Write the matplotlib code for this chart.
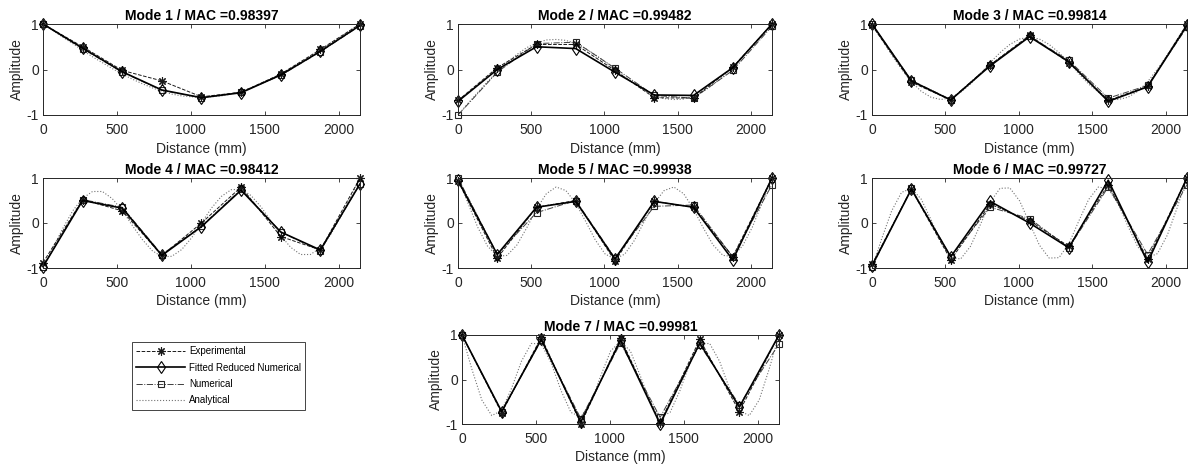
import matplotlib
matplotlib.use("Agg")
import matplotlib.pyplot as plt

plt.rcParams['font.family'] = ['Liberation Sans', 'DejaVu Sans']

# ---------------- data ----------------
sensor_x = [0, 268, 536, 804, 1072, 1340, 1608, 1876, 2144]

ana_x = [0, 67, 134, 201, 268, 335, 402, 469, 536, 603, 670, 737, 804, 871, 938,
         1005, 1072, 1139, 1206, 1273, 1340, 1407, 1474, 1541, 1608, 1675, 1742,
         1809, 1876, 1943, 2010, 2077, 2144]

mode_titles = ["Mode 1 / MAC =0.98397", "Mode 2 / MAC =0.99482", "Mode 3 / MAC =0.99814",
               "Mode 4 / MAC =0.98412", "Mode 5 / MAC =0.99938", "Mode 6 / MAC =0.99727",
               "Mode 7 / MAC =0.99981"]

exp_1 = [1.00, 0.50, -0.02, -0.25, -0.60, -0.50, -0.10, 0.44, 1.00]
fit_1 = [1.00, 0.47, -0.05, -0.45, -0.62, -0.51, -0.12, 0.40, 0.97]
num_1 = [1.00, 0.46, -0.06, -0.46, -0.62, -0.50, -0.13, 0.39, 0.96]
ana_1 = [1.00, 0.86, 0.71, 0.57, 0.42, 0.28, 0.15, 0.02, -0.10, -0.21, -0.31, -0.40, -0.48,
         -0.54, -0.58, -0.60, -0.61, -0.60, -0.58, -0.54, -0.48, -0.40, -0.31, -0.21, -0.10,
         0.02, 0.15, 0.28, 0.42, 0.57, 0.71, 0.86, 1.00]

exp_2 = [-0.68, 0.04, 0.55, 0.55, -0.02, -0.62, -0.63, 0.05, 1.00]
fit_2 = [-0.70, 0.00, 0.50, 0.46, -0.06, -0.56, -0.57, 0.04, 1.00]
num_2 = [-1.00, -0.06, 0.57, 0.60, 0.03, -0.57, -0.63, -0.02, 0.95]
ana_2 = [-1.00, -0.75, -0.51, -0.27, -0.05, 0.16, 0.33, 0.48, 0.58, 0.65, 0.66, 0.64, 0.57,
         0.46, 0.32, 0.17, 0.00, -0.17, -0.32, -0.46, -0.57, -0.64, -0.66, -0.65, -0.58,
         -0.48, -0.33, -0.16, 0.05, 0.27, 0.51, 0.75, 1.00]

exp_3 = [0.97, -0.28, -0.67, 0.10, 0.75, 0.15, -0.68, -0.37, 1.00]
fit_3 = [1.00, -0.25, -0.67, 0.08, 0.72, 0.17, -0.70, -0.38, 0.97]
num_3 = [1.00, -0.24, -0.66, 0.10, 0.73, 0.20, -0.63, -0.35, 0.93]
ana_3 = [1.00, 0.66, 0.32, 0.01, -0.27, -0.48, -0.61, -0.66, -0.62, -0.50, -0.32, -0.09, 0.15,
         0.37, 0.55, 0.67, 0.71, 0.67, 0.55, 0.37, 0.15, -0.09, -0.32, -0.50, -0.62, -0.66,
         -0.61, -0.48, -0.27, 0.01, 0.32, 0.66, 1.00]

exp_4 = [-0.88, 0.52, 0.27, -0.72, 0.00, 0.80, -0.30, -0.60, 1.00]
fit_4 = [-0.97, 0.50, 0.33, -0.72, -0.08, 0.73, -0.20, -0.60, 0.87]
num_4 = [-0.97, 0.52, 0.35, -0.70, -0.07, 0.75, -0.20, -0.62, 0.87]
ana_4 = [-1.00, -0.55, -0.12, 0.27, 0.55, 0.70, 0.70, 0.54, 0.28, -0.05, -0.36, -0.61, -0.75,
         -0.74, -0.59, -0.33, 0.00, 0.33, 0.59, 0.74, 0.75, 0.61, 0.36, 0.05, -0.28, -0.54,
         -0.70, -0.70, -0.55, -0.27, 0.12, 0.55, 1.00]

exp_5 = [0.93, -0.78, 0.35, 0.50, -0.85, 0.48, 0.35, -0.75, 1.00]
fit_5 = [0.95, -0.70, 0.35, 0.48, -0.80, 0.48, 0.35, -0.82, 1.00]
num_5 = [1.00, -0.70, 0.23, 0.50, -0.78, 0.37, 0.40, -0.75, 0.85]
ana_5 = [1.00, 0.45, -0.09, -0.51, -0.74, -0.72, -0.49, -0.11, 0.31, 0.65, 0.80, 0.72, 0.44,
         0.04, -0.38, -0.69, -0.80, -0.69, -0.38, 0.04, 0.44, 0.72, 0.80, 0.65, 0.31, -0.11,
         -0.49, -0.72, -0.74, -0.51, -0.09, 0.45, 1.00]

exp_6 = [-0.92, 0.75, -0.82, 0.42, 0.05, -0.52, 0.85, -0.80, 1.00]
fit_6 = [-0.95, 0.75, -0.75, 0.48, 0.00, -0.55, 0.95, -0.87, 1.00]
num_6 = [-0.97, 0.77, -0.75, 0.35, 0.10, -0.55, 0.80, -0.70, 0.85]
ana_6 = [-1.00, -0.34, 0.27, 0.68, 0.77, 0.53, 0.07, -0.43, -0.76, -0.80, -0.52, -0.04, 0.46,
         0.77, 0.78, 0.49, 0.00, -0.49, -0.78, -0.77, -0.46, 0.04, 0.52, 0.80, 0.76, 0.43,
         -0.07, -0.53, -0.77, -0.68, -0.27, 0.34, 1.00]

exp_7 = [1.00, -0.75, 0.95, -1.00, 0.93, -0.97, 0.90, -0.72, 1.00]
fit_7 = [1.00, -0.72, 0.90, -0.95, 0.88, -1.00, 0.82, -0.62, 1.00]
num_7 = [1.00, -0.72, 0.88, -0.88, 0.82, -0.85, 0.78, -0.57, 0.80]
ana_7 = [1.00, 0.23, -0.46, -0.81, -0.70, -0.20, 0.41, 0.81, 0.80, 0.37, -0.25, -0.74, -0.84,
         -0.51, 0.08, 0.64, 0.86, 0.64, 0.08, -0.51, -0.84, -0.74, -0.25, 0.37, 0.80, 0.81,
         0.41, -0.20, -0.70, -0.81, -0.46, 0.23, 1.00]

exp_all = [exp_1, exp_2, exp_3, exp_4, exp_5, exp_6, exp_7]
fit_all = [fit_1, fit_2, fit_3, fit_4, fit_5, fit_6, fit_7]
num_all = [num_1, num_2, num_3, num_4, num_5, num_6, num_7]
ana_all = [ana_1, ana_2, ana_3, ana_4, ana_5, ana_6, ana_7]

x_ticks = [0, 500, 1000, 1500, 2000]
y_ticks = [-1, 0, 1]
y_ticklabels = ["-1", "0", "1"]
legend_labels = ["Experimental", "Fitted Reduced Numerical", "Numerical", "Analytical"]

# ---------------- layout (pixels) ----------------
W, H = 1188, 468
boxes = [  # left, top, right, bottom
    (43, 24, 360, 115), (458, 24, 772, 115), (872, 24, 1187, 115),
    (43, 178, 360, 268), (458, 178, 772, 268), (872, 178, 1187, 268),
    (462, 335, 779, 424),
]

fig = plt.figure(figsize=(W / 100, H / 100), dpi=100)
tick_color = '#262626'
handles = None
for i, (l, t, r, b) in enumerate(boxes):
    ax = fig.add_axes([l / W, 1 - b / H, (r - l) / W, (b - t) / H])
    ha = ax.plot(ana_x, ana_all[i], linestyle=':', color='0.45', lw=0.8)[0]
    hn = ax.plot(sensor_x, num_all[i], linestyle='-.', color='0.25', lw=0.7,
                 marker='s', markersize=5, markerfacecolor='none', markeredgecolor='0.15',
                 markeredgewidth=0.8, clip_on=False)[0]
    he = ax.plot(sensor_x, exp_all[i], linestyle='--', color='0.1', lw=0.7,
                 marker=(8, 2, 0), markersize=6, markeredgewidth=0.8, clip_on=False)[0]
    hf = ax.plot(sensor_x, fit_all[i], linestyle='-', color='black', lw=1.2,
                 marker='d', markersize=6, markerfacecolor='none', markeredgecolor='black',
                 markeredgewidth=0.8, clip_on=False)[0]
    if handles is None:
        handles = [he, hf, hn, ha]
    ax.set_xlim(0, 2144)
    ax.set_ylim(-1, 1)
    ax.set_xticks(x_ticks)
    ax.set_yticks(y_ticks)
    ax.set_yticklabels(y_ticklabels)
    ax.tick_params(direction='in', top=True, right=True, length=3, width=0.6,
                   labelsize=10, colors=tick_color)
    ax.tick_params(axis='x', pad=6)
    ax.tick_params(axis='y', pad=3)
    for s in ax.spines.values():
        s.set_linewidth(0.7)
        s.set_color('#262626')
    ax.set_title(mode_titles[i], fontsize=10, fontweight='bold', pad=3)
    ax.set_xlabel("Distance (mm)", fontsize=10, color=tick_color, labelpad=3)
    ax.set_ylabel("Amplitude", fontsize=10, color=tick_color, labelpad=2)

leg = fig.legend(handles, legend_labels, loc='upper left',
                 bbox_to_anchor=(132 / W, 1 - 342 / H), fontsize=7,
                 frameon=True, fancybox=False, edgecolor='#262626', framealpha=1,
                 handlelength=5.0, handletextpad=0.4, borderpad=0.45, labelspacing=0.65,
                 borderaxespad=0)
leg.get_frame().set_linewidth(0.6)

fig.savefig("out.png", dpi=100)
